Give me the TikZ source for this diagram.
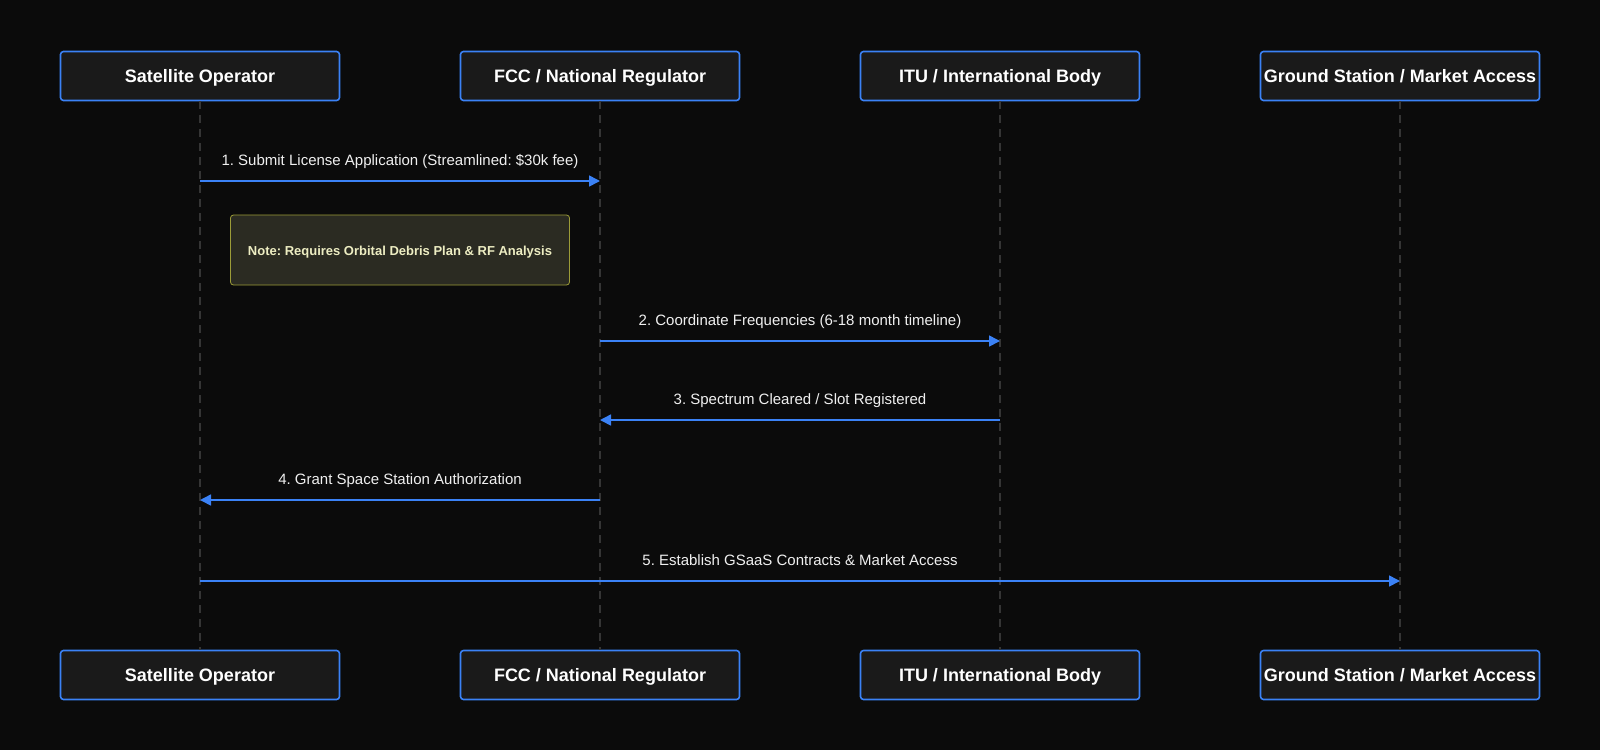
\documentclass[tikz,border=0pt]{standalone}
\usepackage{fontspec}
\setmainfont{Liberation Sans}
\usetikzlibrary{arrows.meta,positioning}

\definecolor{bgdark}{HTML}{0B0B0B}
\definecolor{boxfill}{HTML}{1A1A1A}
\definecolor{lineblue}{HTML}{3B82F6}
\definecolor{lifegrey}{HTML}{353535}
\definecolor{notefill}{HTML}{2B2B22}
\definecolor{noteline}{HTML}{9C9C38}
\definecolor{notetext}{HTML}{EDEDC2}
\definecolor{msgtext}{HTML}{F0F0F0}

\begin{document}
\frenchspacing
\begin{tikzpicture}[x=1pt, y=-1pt,
  actor/.style={draw=lineblue, line width=1.6pt, fill=boxfill, rounded corners=3pt,
    minimum width=279pt, minimum height=49pt, inner sep=0pt, text=white,
    text height=13pt, text depth=1pt,
    font=\fontsize{18}{21}\selectfont\bfseries},
  lifeline/.style={draw=lifegrey, line width=1.2pt, dash pattern=on 8pt off 6pt},
  msg/.style={draw=lineblue, line width=1.6pt, -{Triangle[length=11pt,width=11pt]}},
  msglabel/.style={pos=0.5, anchor=base, yshift=16pt, inner sep=0pt, text=msgtext,
    font=\fontsize{15}{18}\selectfont},
  notebox/.style={draw=noteline, line width=0.8pt, fill=notefill, rounded corners=3pt,
    minimum width=339pt, minimum height=70pt, inner sep=0pt, text=notetext,
    text height=11.6pt, text depth=1pt,
    font=\fontsize{13}{16}\selectfont\bfseries}]

\fill[bgdark] (0,0) rectangle (1600,750);
\useasboundingbox (0,0) rectangle (1600,750);

% participants, top and bottom
\node[actor] (so)  at (200,76)  {Satellite Operator};
\node[actor] (fcc) at (600,76)  {FCC / National Regulator};
\node[actor] (itu) at (1000,76) {ITU / International Body};
\node[actor] (gs)  at (1400,76) {Ground Station / Market Access};

\node[actor] (sob)  at (200,675)  {Satellite Operator};
\node[actor] (fccb) at (600,675)  {FCC / National Regulator};
\node[actor] (itub) at (1000,675) {ITU / International Body};
\node[actor] (gsb)  at (1400,675) {Ground Station / Market Access};

% lifelines
\draw[lifeline] (so) -- (sob);
\draw[lifeline] (fcc) -- (fccb);
\draw[lifeline] (itu) -- (itub);
\draw[lifeline] (gs) -- (gsb);

% messages
\draw[msg] (so |- 0,181) -- node[msglabel] {1. Submit License Application (Streamlined: \$30k fee)} (fcc |- 0,181);

\node[notebox] (debris) at (400,250) {Note: Requires Orbital Debris Plan \& RF Analysis};

\draw[msg] (fcc |- 0,341) -- node[msglabel] {2. Coordinate Frequencies (6-18 month timeline)} (itu |- 0,341);
\draw[msg] (itu |- 0,420) -- node[msglabel] {3. Spectrum Cleared / Slot Registered} (fcc |- 0,420);
\draw[msg] (fcc |- 0,500) -- node[msglabel] {4. Grant Space Station Authorization} (so |- 0,500);
\draw[msg] (so |- 0,581) -- node[msglabel] {5. Establish GSaaS Contracts \& Market Access} (gs |- 0,581);
\end{tikzpicture}
\end{document}
